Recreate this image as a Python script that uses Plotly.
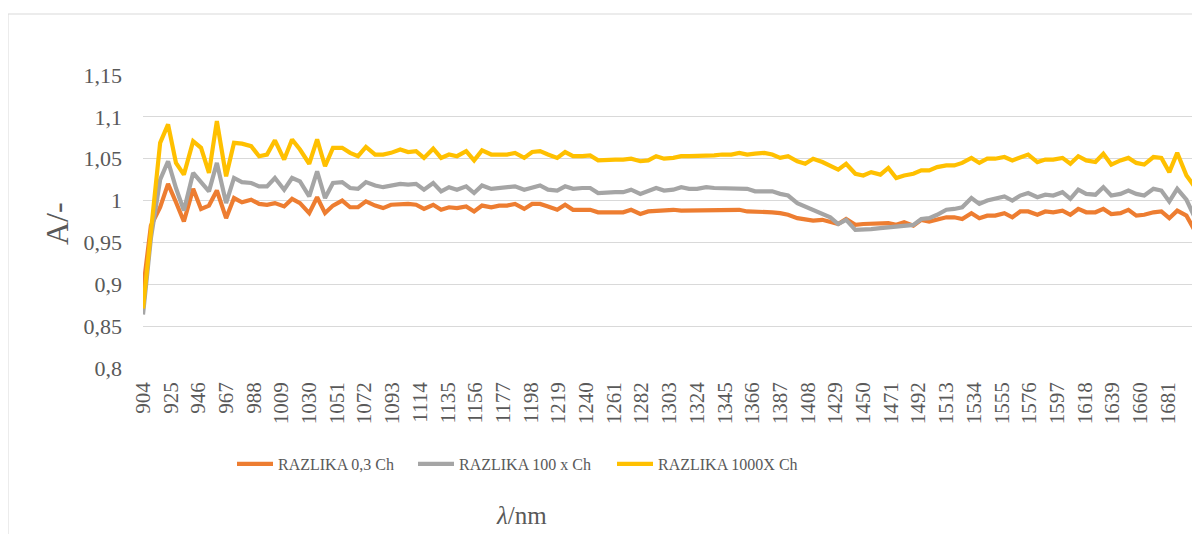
import plotly.graph_objects as go

wavelength_nm = [
    904, 910, 917, 923, 929, 935, 942, 948, 954, 960, 967, 973, 979, 986, 992, 998,
    1004, 1011, 1017, 1023, 1030, 1036, 1042, 1048, 1055, 1061, 1067, 1073, 1080, 1086, 1092, 1099,
    1105, 1111, 1117, 1124, 1130, 1136, 1142, 1149, 1155, 1161, 1168, 1174, 1180, 1186, 1193, 1199,
    1205, 1211, 1218, 1224, 1230, 1237, 1243, 1249, 1255, 1262, 1268, 1274, 1281, 1287, 1293, 1299,
    1306, 1312, 1318, 1324, 1331, 1337, 1343, 1350, 1356, 1362, 1368, 1375, 1381, 1387, 1393, 1400,
    1406, 1412, 1419, 1425, 1431, 1437, 1444, 1450, 1456, 1463, 1469, 1475, 1481, 1488, 1494, 1500,
    1506, 1513, 1519, 1525, 1532, 1538, 1544, 1550, 1557, 1563, 1569, 1575, 1582, 1588, 1594, 1601,
    1607, 1613, 1619, 1626, 1632, 1638, 1645, 1651, 1657, 1663, 1670, 1676, 1682, 1688, 1695, 1701,
]

razlika_03 = [
    0.893, 0.970, 0.992, 1.020, 0.998, 0.975, 1.014, 0.990, 0.994, 1.012, 0.979, 1.003, 0.998, 1.001, 0.996, 0.995,
    0.997, 0.993, 1.002, 0.997, 0.985, 1.004, 0.985, 0.994, 1.000, 0.992, 0.992, 0.999, 0.994, 0.991, 0.995, 0.996,
    0.996, 0.995, 0.990, 0.995, 0.989, 0.992, 0.991, 0.993, 0.987, 0.994, 0.992, 0.994, 0.994, 0.996, 0.990, 0.996,
    0.996, 0.993, 0.989, 0.995, 0.989, 0.989, 0.989, 0.986, 0.986, 0.986, 0.986, 0.989, 0.984, 0.987, 0.988, 0.988,
    0.989, 0.988, 0.988, 0.988, 0.989, 0.989, 0.989, 0.989, 0.989, 0.987, 0.987, 0.987, 0.986, 0.985, 0.983, 0.979,
    0.978, 0.976, 0.977, 0.974, 0.972, 0.978, 0.971, 0.972, 0.972, 0.973, 0.973, 0.971, 0.974, 0.970, 0.977, 0.975,
    0.977, 0.980, 0.980, 0.978, 0.985, 0.979, 0.982, 0.982, 0.985, 0.980, 0.987, 0.987, 0.983, 0.987, 0.986, 0.988,
    0.983, 0.990, 0.986, 0.986, 0.990, 0.984, 0.985, 0.989, 0.982, 0.983, 0.986, 0.987, 0.979, 0.988, 0.982, 0.965,
]

razlika_100x = [
    0.864, 0.955, 1.025, 1.047, 1.015, 0.988, 1.033, 1.022, 1.011, 1.045, 0.997, 1.027, 1.022, 1.021, 1.017, 1.017,
    1.027, 1.013, 1.027, 1.023, 1.005, 1.035, 1.003, 1.021, 1.022, 1.015, 1.014, 1.022, 1.018, 1.016, 1.018, 1.020,
    1.019, 1.020, 1.013, 1.021, 1.011, 1.016, 1.013, 1.017, 1.009, 1.018, 1.014, 1.015, 1.015, 1.017, 1.013, 1.016,
    1.018, 1.013, 1.012, 1.017, 1.014, 1.015, 1.015, 1.009, 1.010, 1.010, 1.010, 1.013, 1.008, 1.012, 1.015, 1.012,
    1.013, 1.016, 1.014, 1.014, 1.016, 1.015, 1.015, 1.015, 1.015, 1.014, 1.011, 1.011, 1.011, 1.008, 1.006, 0.997,
    0.993, 0.990, 0.985, 0.980, 0.972, 0.977, 0.965, 0.965, 0.966, 0.967, 0.968, 0.968, 0.969, 0.971, 0.978, 0.979,
    0.983, 0.989, 0.990, 0.992, 1.003, 0.996, 1.000, 1.002, 1.005, 1.000, 1.006, 1.009, 1.004, 1.007, 1.006, 1.010,
    1.002, 1.013, 1.008, 1.007, 1.016, 1.006, 1.008, 1.012, 1.008, 1.006, 1.014, 1.012, 0.999, 1.014, 1.001, 0.981,
]

razlika_1000x = [
    0.871, 0.965, 1.069, 1.091, 1.045, 1.031, 1.071, 1.063, 1.033, 1.095, 1.029, 1.069, 1.068, 1.065, 1.053, 1.055,
    1.072, 1.049, 1.073, 1.061, 1.044, 1.073, 1.041, 1.063, 1.063, 1.057, 1.053, 1.064, 1.055, 1.055, 1.057, 1.061,
    1.058, 1.059, 1.051, 1.062, 1.051, 1.055, 1.053, 1.059, 1.048, 1.060, 1.055, 1.055, 1.055, 1.057, 1.051, 1.058,
    1.059, 1.055, 1.051, 1.058, 1.053, 1.053, 1.054, 1.048, 1.049, 1.049, 1.049, 1.050, 1.047, 1.048, 1.053, 1.050,
    1.051, 1.053, 1.053, 1.053, 1.054, 1.054, 1.055, 1.055, 1.057, 1.055, 1.056, 1.057, 1.055, 1.051, 1.053, 1.047,
    1.044, 1.050, 1.046, 1.042, 1.037, 1.044, 1.032, 1.030, 1.034, 1.031, 1.039, 1.027, 1.030, 1.032, 1.036, 1.036,
    1.040, 1.042, 1.042, 1.045, 1.051, 1.045, 1.050, 1.050, 1.052, 1.048, 1.051, 1.055, 1.046, 1.049, 1.049, 1.051,
    1.044, 1.053, 1.048, 1.046, 1.056, 1.043, 1.048, 1.051, 1.045, 1.043, 1.052, 1.051, 1.034, 1.057, 1.030, 1.017,
]

series_names = ["RAZLIKA 0,3 Ch", "RAZLIKA 100 x Ch", "RAZLIKA 1000X Ch"]
series_colors = ["#ED7D31", "#A5A5A5", "#FFC000"]

x_tick_vals = [904, 925, 946, 967, 988, 1009, 1030, 1051, 1072, 1093, 1114, 1135, 1156, 1177,
               1198, 1219, 1240, 1261, 1282, 1303, 1324, 1345, 1366, 1387, 1408, 1429, 1450,
               1471, 1492, 1513, 1534, 1555, 1576, 1597, 1618, 1639, 1660, 1681]
y_tick_vals = [0.8, 0.85, 0.9, 0.95, 1.0, 1.05, 1.1, 1.15]
y_tick_text = ["0,8", "0,85", "0,9", "0,95", "1", "1,05", "1,1", "1,15"]

FONT = "Liberation Serif"
TXT = "#595959"

# the page body has an 8px margin, so the figure is drawn 8px right and down
W, H = 1200, 534
L, R, T, B = 135, 11, 67, 174
pw, ph = W - L - R, H - T - B
OFF = 8

def px(xs):
    return (xs - OFF - L) / pw

def py(ys):
    return (H - B - (ys - OFF)) / ph

legend_ids = ["legend", "legend2", "legend3"]
legend_left = [232, 413, 612]

fig = go.Figure()
for name, vals, col, lg in zip(series_names, [razlika_03, razlika_100x, razlika_1000x],
                               series_colors, legend_ids):
    fig.add_trace(go.Scatter(x=wavelength_nm, y=vals, mode="lines", name=name, legend=lg,
                             line=dict(color=col, width=4.2, shape="linear")))

legend_style = dict(orientation="h", yanchor="middle", xanchor="left",
                    font=dict(family=FONT, size=16, color=TXT), itemwidth=36,
                    bgcolor="rgba(0,0,0,0)")
legend_layout = {}
for lg, xl in zip(legend_ids, legend_left):
    legend_layout[lg] = dict(legend_style, x=px(xl), y=py(464))

fig.update_layout(
    width=W, height=H,
    margin=dict(l=L, r=R, t=T, b=B),
    paper_bgcolor="white", plot_bgcolor="white",
    font=dict(family=FONT, color=TXT, size=20),
    showlegend=True,
    **legend_layout,
    xaxis=dict(range=[904, 1703], tickvals=x_tick_vals, ticktext=[str(v) for v in x_tick_vals],
               tickangle=-90, showgrid=False, zeroline=False, showline=False, ticks="",
               tickfont=dict(family=FONT, size=21, color=TXT), ticklabelstandoff=9),
    yaxis=dict(range=[0.8, 1.15], tickvals=y_tick_vals, ticktext=y_tick_text,
               showgrid=True, gridcolor="#D9D9D9", gridwidth=1, zeroline=False, showline=False,
               ticks="", tickfont=dict(family=FONT, size=22, color=TXT), ticklabelstandoff=20),
    shapes=[dict(type="rect", xref="paper", yref="paper",
                 x0=px(8), x1=px(1215), y0=py(560), y1=py(14),
                 line=dict(color="#D9D9D9", width=1), fillcolor="rgba(0,0,0,0)", layer="below")],
    annotations=[
        dict(text="<i>λ</i>/nm", xref="paper", yref="paper", x=px(521), y=py(515),
             showarrow=False, font=dict(family=FONT, size=25, color=TXT),
             xanchor="center", yanchor="middle"),
        dict(text="A/-", xref="paper", yref="paper", x=px(57), y=py(224), textangle=-90,
             showarrow=False, font=dict(family=FONT, size=32, color=TXT),
             xanchor="center", yanchor="middle"),
    ],
)

fig.write_html("out.html")
